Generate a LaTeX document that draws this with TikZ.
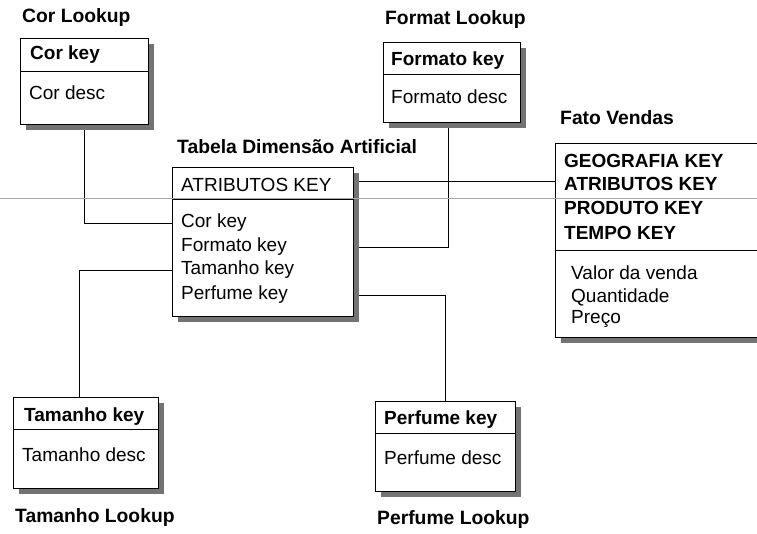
\documentclass[tikz,border=0pt]{standalone}
\usepackage{fontspec}
\setmainfont{Liberation Sans}
\usetikzlibrary{shadows}
\pgfdeclarelayer{paper}
\pgfdeclarelayer{background}
\pgfsetlayers{paper,background,main}
\begin{document}
\begin{tikzpicture}[x=1pt,y=-1pt,
  tbox/.style={draw=black, line width=0.9pt, fill=white, anchor=north west, inner sep=0pt,
    drop shadow={shadow xshift=6pt, shadow yshift=-6pt, fill=black!55, opacity=1}},
  divider/.style={draw=black, line width=0.9pt},
  conn/.style={draw=black, line width=0.9pt},
  ttl/.style={anchor=west, inner sep=0pt, font=\fontsize{19.3}{22}\selectfont\bfseries},
  hdr/.style={anchor=west, inner sep=0pt, font=\fontsize{19}{22}\selectfont\bfseries},
  row/.style={anchor=west, inner sep=0pt, font=\fontsize{19}{22}\selectfont},
]
\clip (0,0) rectangle (757,534);
\begin{pgfonlayer}{paper}
\fill[white] (0,0) rectangle (757,534);
\end{pgfonlayer}

% Cor Lookup
\node[ttl] (corT) at (22,18) {Cor Lookup};
\node[tbox, minimum width=128pt, minimum height=86pt] (cor) at (20,38) {};
\draw[divider] ([yshift=-33pt]cor.north west) -- ([yshift=-33pt]cor.north east);
\node[hdr] (corK) at (30,55) {Cor key};
\node[row] (corD) at (29,93) {Cor desc};

% Format Lookup
\node[ttl] (fmtT) at (385,20) {Format Lookup};
\node[tbox, minimum width=137pt, minimum height=80pt] (fmt) at (383,42) {};
\draw[divider] ([yshift=-32pt]fmt.north west) -- ([yshift=-32pt]fmt.north east);
\node[hdr] (fmtK) at (391,61) {Formato key};
\node[row] (fmtD) at (391,97) {Formato desc};

% Tabela Dimensao Artificial
\node[ttl] (tabT) at (177,147) {Tabela Dimensão Artificial};
\node[tbox, minimum width=181pt, minimum height=149pt] (tab) at (172,167) {};
\draw[divider] ([yshift=-32pt]tab.north west) -- ([yshift=-32pt]tab.north east);
\node[row] (tatr) at (181,185) {ATRIBUTOS KEY};
\node[row] (tcor) at (181,223) {Cor key};
\node[row] (tform) at (181,247) {Formato key};
\node[row] (ttam) at (181,270) {Tamanho key};
\node[row] (tperf) at (181,295) {Perfume key};

% Fato Vendas
\node[ttl] (fatoT) at (560,118) {Fato Vendas};
\node[tbox, minimum width=215pt, minimum height=194pt] (fato) at (555,143) {};
\draw[divider] ([yshift=-107pt]fato.north west) -- ([yshift=-107pt]fato.north east);
\node[hdr] (fgeo) at (564,161) {GEOGRAFIA KEY};
\node[hdr] (fatr) at (564,184) {ATRIBUTOS KEY};
\node[hdr] (fprod) at (564,208) {PRODUTO KEY};
\node[hdr] (ftempo) at (564,233) {TEMPO KEY};
\node[row] (fval) at (571,273) {Valor da venda};
\node[row] (fqtd) at (571,297) {Quantidade};
\node[row] (fpre) at (571,319) {Preço};

% Tamanho Lookup
\node[tbox, minimum width=145pt, minimum height=91pt] (tam) at (13,397) {};
\draw[divider] ([yshift=-32pt]tam.north west) -- ([yshift=-32pt]tam.north east);
\node[hdr] (tamK) at (24,417) {Tamanho key};
\node[row] (tamD) at (22,455) {Tamanho desc};
\node[ttl] (tamT) at (15,518) {Tamanho Lookup};

% Perfume Lookup
\node[tbox, minimum width=140pt, minimum height=90pt] (perf) at (375,401) {};
\draw[divider] ([yshift=-32pt]perf.north west) -- ([yshift=-32pt]perf.north east);
\node[hdr] (perfK) at (384,420) {Perfume key};
\node[row] (perfD) at (384,458) {Perfume desc};
\node[ttl] (perfT) at (377,520) {Perfume Lookup};

% connectors
\begin{pgfonlayer}{background}
\draw[conn] ([xshift=64pt]cor.south west) |- (tcor.west -| tab.west);
\draw[conn] (tform.west -| tab.east) -| ([xshift=65pt]fmt.south west);
\draw[conn] ([yshift=3pt]fatr.west -| tab.east) -- ([yshift=3pt]fatr.west -| fato.west);
\draw[conn] (ttam.west -| tab.west) -| ([xshift=66pt]tam.north west);
\draw[conn] (tperf.west -| tab.east) -| ([xshift=70pt]perf.north west);
\end{pgfonlayer}

% scan line
\draw[black!35, line width=0.8pt] (0,198) -- (757,198);
\end{tikzpicture}
\end{document}
